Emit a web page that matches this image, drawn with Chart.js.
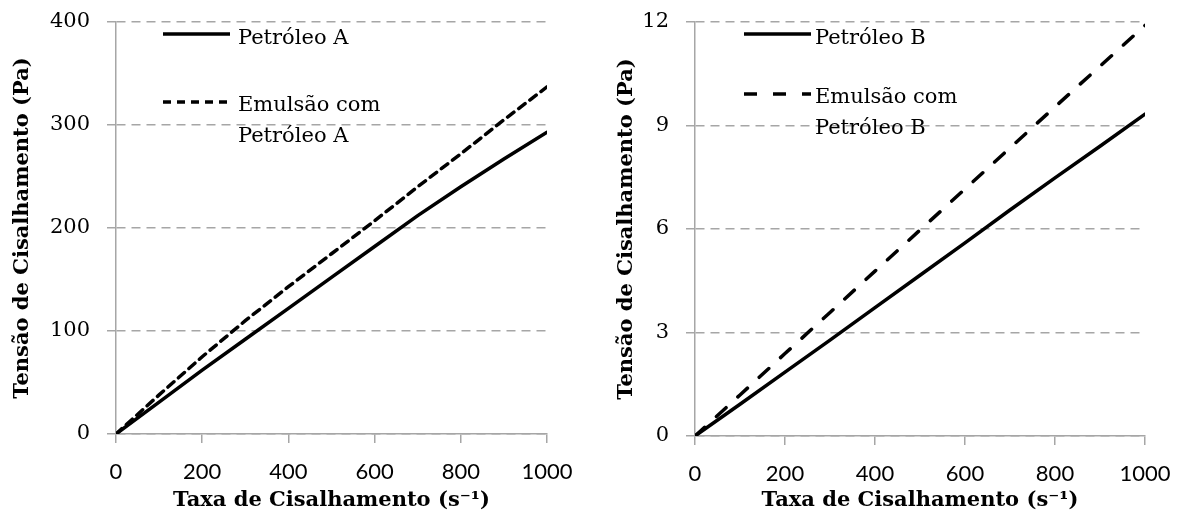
<!DOCTYPE html>
<html>
<head>
<meta charset="utf-8">
<script src="https://cdn.jsdelivr.net/npm/chart.js@4/dist/chart.umd.min.js"></script>
<style>
    html, body { margin: 0; padding: 0; background: #fff; }
    .panel { position: absolute; top: 0; height: 514px; }
    #left-panel { left: 0; width: 590px; }
    #right-panel { left: 590px; width: 589px; }
</style>
</head>
<body>
<div class="panel" id="left-panel"><canvas id="chart-a"></canvas></div>
<div class="panel" id="right-panel"><canvas id="chart-b"></canvas></div>
<script>
// Shear rate (s-1), shared by all four curves
const shearRate = [0, 100, 200, 300, 400, 500, 600, 700, 800, 900, 1000];

// Shear stress (Pa)
const petroleoA = [0, 31, 62, 92, 122, 152, 182, 212, 240, 267, 293];
const emulsaoA = [0, 38, 75, 110, 143, 175, 207, 240, 272, 305, 337];
const petroleoB = [0, 0.92, 1.85, 2.78, 3.72, 4.66, 5.6, 6.55, 7.48, 8.4, 9.33];
const emulsaoB = [0, 1.19, 2.39, 3.58, 4.78, 5.97, 7.16, 8.35, 9.54, 10.72, 11.9];

const xTicks = [0, 200, 400, 600, 800, 1000];
const yTicksA = [0, 100, 200, 300, 400];
const yTicksB = [0, 3, 6, 9, 12];

const labelsA = ['Petróleo A', ['Emulsão com', 'Petróleo A']];
const labelsB = ['Petróleo B', ['Emulsão com', 'Petróleo B']];

const serif = "'DejaVu Serif', 'Liberation Serif', serif";
const sans = "Lato, 'Open Sans', sans-serif";
const gridGray = '#A6A6A6';

function toPoints(ys) {
    return shearRate.map((x, i) => ({ x: x, y: ys[i] }));
}

// Draws the in-plot legend (line sample + possibly two-line text)
const insideLegend = {
    id: 'insideLegend',
    afterDraw(chart, args, opts) {
        const ctx = chart.ctx;
        ctx.save();
        ctx.font = '21px ' + serif;
        ctx.fillStyle = '#000';
        ctx.textBaseline = 'middle';
        opts.items.forEach((item, i) => {
            const ds = chart.data.datasets[i];
            ctx.beginPath();
            ctx.lineWidth = ds.borderWidth;
            ctx.strokeStyle = ds.borderColor;
            ctx.lineCap = 'butt';
            ctx.setLineDash(ds.borderDash || []);
            ctx.moveTo(item.x1, item.ly);
            ctx.lineTo(item.x2, item.ly);
            ctx.stroke();
            ctx.setLineDash([]);
            const text = [].concat(ds.label);
            text.forEach((t, j) => {
                ctx.fillText(t, item.tx, item.ty + j * 31);
            });
        });
        ctx.restore();
    }
};

function makeChart(id, series, labels, yTicks, dash, geom) {
    const ctx = document.getElementById(id);
    return new Chart(ctx, {
        type: 'line',
        data: {
            datasets: series.map((s, i) => ({
                label: labels[i],
                data: toPoints(s),
                borderColor: '#000',
                borderWidth: 3.5,
                borderDash: i === 1 ? dash : [],
                borderCapStyle: 'round',
                pointRadius: 0,
                tension: 0,
                fill: false
            }))
        },
        options: {
            responsive: true,
            maintainAspectRatio: false,
            animation: false,
            layout: { padding: { left: 0, right: geom.padRight, top: 22, bottom: 0 } },
            plugins: {
                legend: { display: false },
                tooltip: { enabled: false },
                insideLegend: { items: geom.legend }
            },
            scales: {
                x: {
                    type: 'linear',
                    min: 0,
                    max: 1000,
                    afterBuildTicks: axis => { axis.ticks = xTicks.map(v => ({ value: v })); },
                    afterFit: axis => {
                        axis.height = geom.xHeight;
                        axis.paddingLeft = 0;
                        axis.paddingRight = 0;
                    },
                    grid: {
                        drawOnChartArea: false,
                        drawTicks: true,
                        tickLength: 9,
                        color: gridGray,
                        lineWidth: 1.5
                    },
                    border: { display: true, color: gridGray, width: 1.5 },
                    ticks: {
                        color: '#000',
                        padding: 16,
                        maxRotation: 0,
                        callback: v => String(v),
                        font: { family: sans, size: 22 }
                    },
                    title: {
                        display: true,
                        text: 'Taxa de Cisalhamento (s⁻¹)',
                        color: '#000',
                        padding: { top: 0, bottom: 1 },
                        font: { family: serif, size: 21, weight: 'bold' }
                    }
                },
                y: {
                    min: yTicks[0],
                    max: yTicks[yTicks.length - 1],
                    afterBuildTicks: axis => { axis.ticks = yTicks.map(v => ({ value: v })); },
                    afterFit: axis => {
                        axis.width = geom.yWidth;
                        axis.paddingTop = 0;
                        axis.paddingBottom = 0;
                    },
                    grid: {
                        color: gridGray,
                        lineWidth: 1.5,
                        tickLength: 9,
                        tickBorderDash: [9, 6]
                    },
                    border: { display: true, color: gridGray, width: 1.5, dash: [9, 6] },
                    ticks: {
                        color: '#000',
                        padding: 17,
                        callback: v => String(v),
                        font: { family: serif, size: 21 }
                    },
                    title: {
                        display: true,
                        text: 'Tensão de Cisalhamento (Pa)',
                        color: '#000',
                        padding: { top: geom.yTitlePad, bottom: 0 },
                        font: { family: serif, size: 21, weight: 'bold' }
                    }
                }
            }
        },
        plugins: [insideLegend]
    });
}

makeChart('chart-a', [petroleoA, emulsaoA], labelsA, yTicksA, [8, 6], {
    padRight: 43, xHeight: 80, yWidth: 116, yTitlePad: 10,
    legend: [
        { x1: 163, x2: 230, ly: 34, tx: 238, ty: 39 },
        { x1: 163, x2: 230, ly: 102, tx: 238, ty: 106 }
    ]
});

makeChart('chart-b', [petroleoB, emulsaoB], labelsB, yTicksB, [13, 16], {
    padRight: 34, xHeight: 78, yWidth: 105, yTitlePad: 24,
    legend: [
        { x1: 154, x2: 221, ly: 34, tx: 225, ty: 39 },
        { x1: 154, x2: 221, ly: 94, tx: 225, ty: 98 }
    ]
});
</script>
</body>
</html>
